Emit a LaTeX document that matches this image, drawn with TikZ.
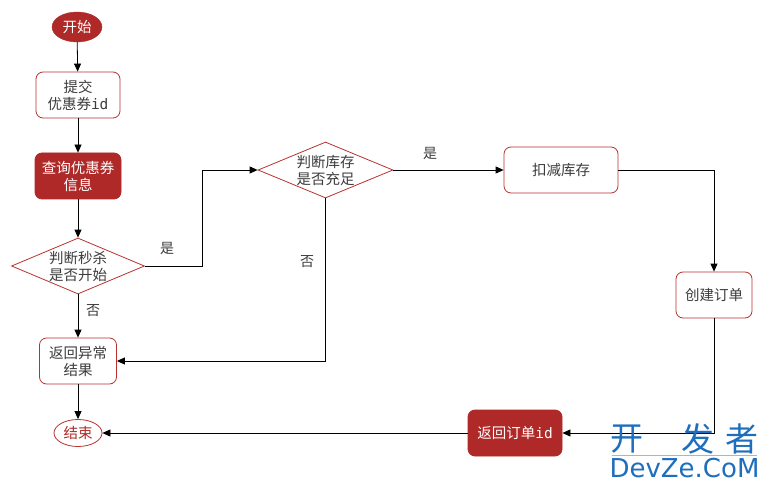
\documentclass[tikz,border=0pt]{standalone}
\usepackage{fontspec}
\setmainfont{Noto Sans CJK SC}
\newfontfamily\cjk{Noto Sans CJK SC}
\newfontfamily\monoid{DejaVu Sans Mono}
\usetikzlibrary{arrows.meta,shapes.geometric}
\definecolor{dred}{RGB}{174,41,39}
\definecolor{bred}{RGB}{184,50,48}
\definecolor{txt}{RGB}{60,60,60}
\definecolor{wblue}{RGB}{30,110,190}
\begin{document}
\begin{tikzpicture}[x=1pt,y=-1pt,
  every node/.style={font=\cjk\fontsize{14.5}{17}\selectfont, text=txt, align=center, inner sep=0pt},
  whitebox/.style={draw=bred, fill=white, rounded corners=7pt, line width=0.8pt, minimum width=#1, minimum height=46pt},
  redbox/.style={draw=dred, fill=dred, text=white, rounded corners=7pt, line width=0.8pt, minimum width=#1, minimum height=46pt},
  decision/.style={diamond, draw=bred, fill=white, line width=0.8pt, aspect=2.45, minimum width=#1, minimum height=56pt},
  flow/.style={draw=black, line width=0.8pt, -{Triangle[length=8pt,width=7pt]}},
  lbl/.style={font=\cjk\fontsize{14}{16}\selectfont, text=txt},
  wmark/.style={text=wblue, font=\cjk\fontsize{33}{35}\selectfont}
]
\useasboundingbox (0,0) rectangle (768,489);
\fill[white] (0,0) rectangle (768,489);

\node[ellipse, fill=dred, draw=dred, text=white, minimum width=50pt, minimum height=30pt] (start) at (77,27) {开始};
\node[whitebox=84pt] (submit) at (78,95) {提交\\优惠券{\monoid id}};
\node[redbox=86pt] (query) at (78,176) {查询优惠券\\信息};
\node[decision=133pt] (d1) at (78,266) {判断秒杀\\是否开始};
\node[whitebox=77pt] (err) at (78,361) {返回异常\\结果};
\node[ellipse, draw=bred, fill=white, text=dred, line width=0.8pt, minimum width=48pt, minimum height=27pt] (end) at (78,433) {结束};
\node[decision=135pt] (d2) at (325.5,170) {判断库存\\是否充足};
\node[whitebox=114pt] (deduct) at (561,170) {扣减库存};
\node[whitebox=76pt] (create) at (714,295) {创建订单};
\node[redbox=94pt] (ret) at (515,433) {返回订单{\monoid id}};

\draw[flow] (start) -- (submit);
\draw[flow] (submit) -- (query);
\draw[flow] (query) -- (d1);
\draw[flow] (d1.south) -- (err.north);
\draw[flow] (err.south) -- (end.north);
\draw[flow] (d1.east) -- (202,266) -- (202,170) -- (d2.west);
\draw[flow] (d2.south) -- (325.5,361) -- (err.east);
\draw[flow] (d2.east) -- (deduct.west);
\draw[flow] (deduct.east) -- (714,170) -- (create.north);
\draw[flow] (create.south) -- (714,433) -- (ret.east);
\draw[flow] (ret.west) -- (end.east);

\node[lbl] at (167,248) {是};
\node[lbl] at (93,311) {否};
\node[lbl] at (307,262) {否};
\node[lbl] at (430,153) {是};

% watermark
\node[wmark] (wm1) at (627,439) {开};
\node[wmark] (wm2) at (698,439) {发};
\node[wmark] (wm3) at (742,439) {者};
\draw[cyan!60, line width=0.6pt] (612,455.5) -- (757,455.5);
\node[text=wblue, font=\fontspec{DejaVu Sans}\fontsize{26}{28}\selectfont] (wm4) at (684.5,468) {DevZe.CoM};
\end{tikzpicture}
\end{document}
